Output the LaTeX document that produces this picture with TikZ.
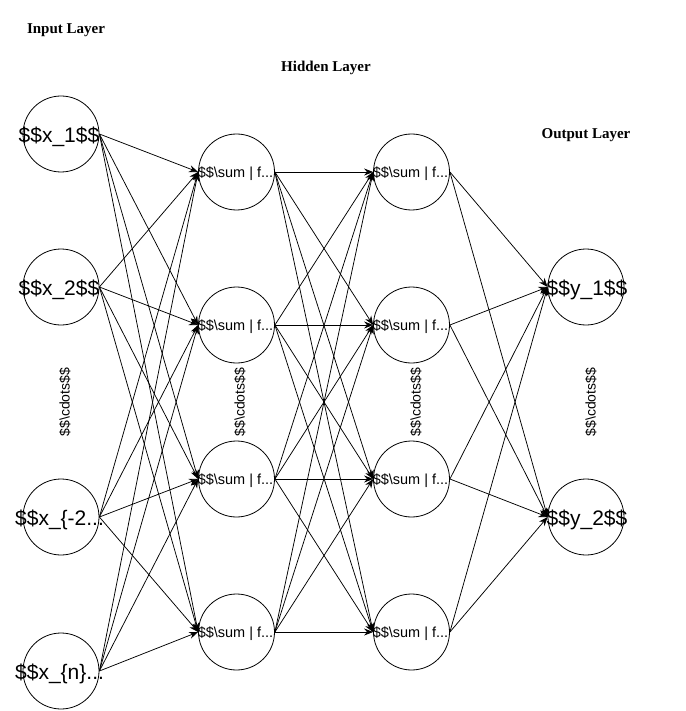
\documentclass[tikz,border=0pt]{standalone}
\usepackage{fontspec}
\setmainfont{Liberation Serif}
\setsansfont{Liberation Sans}
\usetikzlibrary{arrows.meta}
\begin{document}
\begin{tikzpicture}[x=1pt,y=-1pt,
  neuron/.style={draw,circle,line width=0.8pt,minimum size=76pt,inner sep=0pt},
  bigtxt/.style={font=\sffamily\fontsize{21}{24}\selectfont,inner sep=0pt,yshift=-2.5pt},
  smalltxt/.style={font=\sffamily\fontsize{14.5}{17}\selectfont,inner sep=0pt,yshift=-2pt},
  dotstxt/.style={font=\sffamily\fontsize{14}{17}\selectfont,inner sep=0pt,rotate=90},
  title/.style={font=\rmfamily\bfseries\fontsize{15}{18}\selectfont,inner sep=0pt,yshift=-2pt},
  conn/.style={line width=0.75pt,-{Stealth[length=9pt,width=7pt]}}]
\useasboundingbox (0,0) rectangle (685,711);
% titles
\node[title] (tin) at (66,28) {Input Layer};
\node[title] (thid) at (326,66) {Hidden Layer};
\node[title] (tout) at (586,133) {Output Layer};
% input layer
\node[neuron] (i1) at (61,134) {};
\node[neuron] (i2) at (61,287) {};
\node[neuron] (i3) at (61,517) {};
\node[neuron] (i4) at (61,671) {};
\node[bigtxt] (ti1) at (59,134) {\$\$x\_1\$\$};
\node[bigtxt] (ti2) at (59,287) {\$\$x\_2\$\$};
\node[bigtxt,anchor=west] (ti3) at (15,517) {\$\$x\_\{-2...};
\node[bigtxt,anchor=west] (ti4) at (15,671) {\$\$x\_\{n\}...};
\node[dotstxt] (di) at (65,402) {\$\$\textbackslash cdots\$\$};
% hidden layer 1
\node[neuron] (h1) at (236.5,172) {};
\node[neuron] (h2) at (236.5,325) {};
\node[neuron] (h3) at (236.5,479) {};
\node[neuron] (h4) at (236.5,632) {};
% hidden layer 2
\node[neuron] (g1) at (411.5,172) {};
\node[neuron] (g2) at (411.5,325) {};
\node[neuron] (g3) at (411.5,479) {};
\node[neuron] (g4) at (411.5,632) {};
\foreach \n in {h1,h2,h3,h4,g1,g2,g3,g4}{
  \node[smalltxt] (t\n) at ([xshift=-1pt]\n.center) {\$\$\textbackslash sum | f...};
}
\node[dotstxt] (dh) at (240,402) {\$\$\textbackslash cdots\$\$};
\node[dotstxt] (dg) at (416,402) {\$\$\textbackslash cdots\$\$};
% output layer
\node[neuron] (o1) at (586,287) {};
\node[neuron] (o2) at (586,517) {};
\node[bigtxt] (to1) at (587,287) {\$\$y\_1\$\$};
\node[bigtxt] (to2) at (587,517) {\$\$y\_2\$\$};
\node[dotstxt] (do) at (591,402) {\$\$\textbackslash cdots\$\$};
% connectors
\foreach \a in {i1,i2,i3,i4}{
  \foreach \b in {h1,h2,h3,h4}{
    \draw[conn] (\a.east) -- (\b.west);
  }
}
\foreach \a in {h1,h2,h3,h4}{
  \foreach \b in {g1,g2,g3,g4}{
    \draw[conn] (\a.east) -- (\b.west);
  }
}
\foreach \a in {g1,g2,g3,g4}{
  \foreach \b in {o1,o2}{
    \draw[conn] (\a.east) -- (\b.west);
  }
}
\end{tikzpicture}
\end{document}
